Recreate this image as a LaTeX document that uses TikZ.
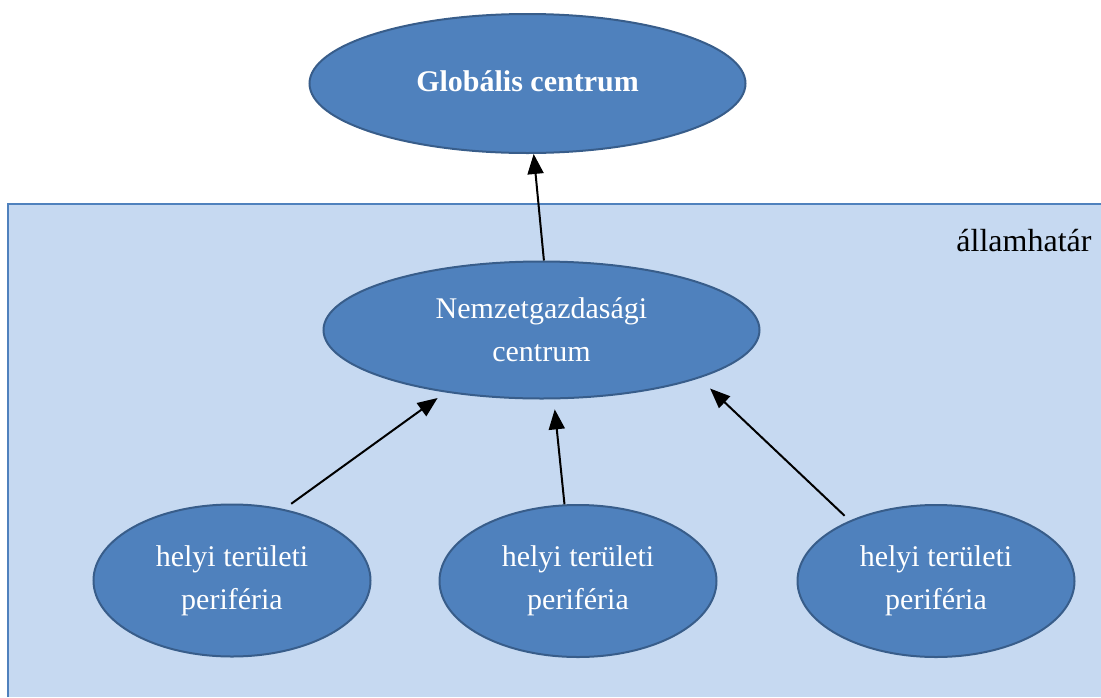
\documentclass[tikz,border=0pt]{standalone}
\usepackage{fontspec}
\setmainfont{Liberation Serif}
\usetikzlibrary{shapes.geometric,arrows.meta}
\definecolor{fillblue}{RGB}{79,129,189}
\definecolor{edgeblue}{RGB}{56,93,138}
\definecolor{paleblue}{RGB}{198,217,241}
\begin{document}
\begin{tikzpicture}[x=1pt,y=-1pt,
  blob/.style={ellipse,draw=edgeblue,fill=fillblue,line width=2pt,inner sep=0pt,
    text=white,align=center,font=\fontsize{30}{43}\selectfont},
  small/.style={blob,minimum width=277pt,minimum height=152pt},
  big/.style={blob,minimum width=436pt,minimum height=137pt},
  arr/.style={-{Triangle[length=20pt,width=16pt]},line width=2pt}]
  \useasboundingbox (0,0) rectangle (1101,697);
  \fill[paleblue] (8,204) rectangle (1101,697);
  \draw[fillblue,line width=2pt] (8,697) -- (8,204) -- (1101,204);
  \node[font=\fontsize{32}{43}\selectfont] (hatar) at (1024,241) {államhatár};
  \node[big,minimum height=139pt,text depth=4pt] (glob) at (527.5,83.5) {\textbf{Globális centrum}};
  \node[big] (nat) at (541.5,330) {Nemzetgazdasági\\centrum};
  \node[small] (bl) at (232,580.5) {helyi területi\\periféria};
  \node[small] (bm) at (578,581) {helyi területi\\periféria};
  \node[small] (br) at (936,581) {helyi területi\\periféria};
  \draw[arr] (nat.88) -- (glob.-85);
  \draw[arr,shorten <=9pt,shorten >=9.5pt] (bl.54) -- (nat.-147);
  \draw[arr,shorten >=10pt] (bm.100) -- (nat.-80);
  \draw[arr,shorten <=7pt,shorten >=15pt] (br.145) -- (nat.-17);
\end{tikzpicture}
\end{document}
